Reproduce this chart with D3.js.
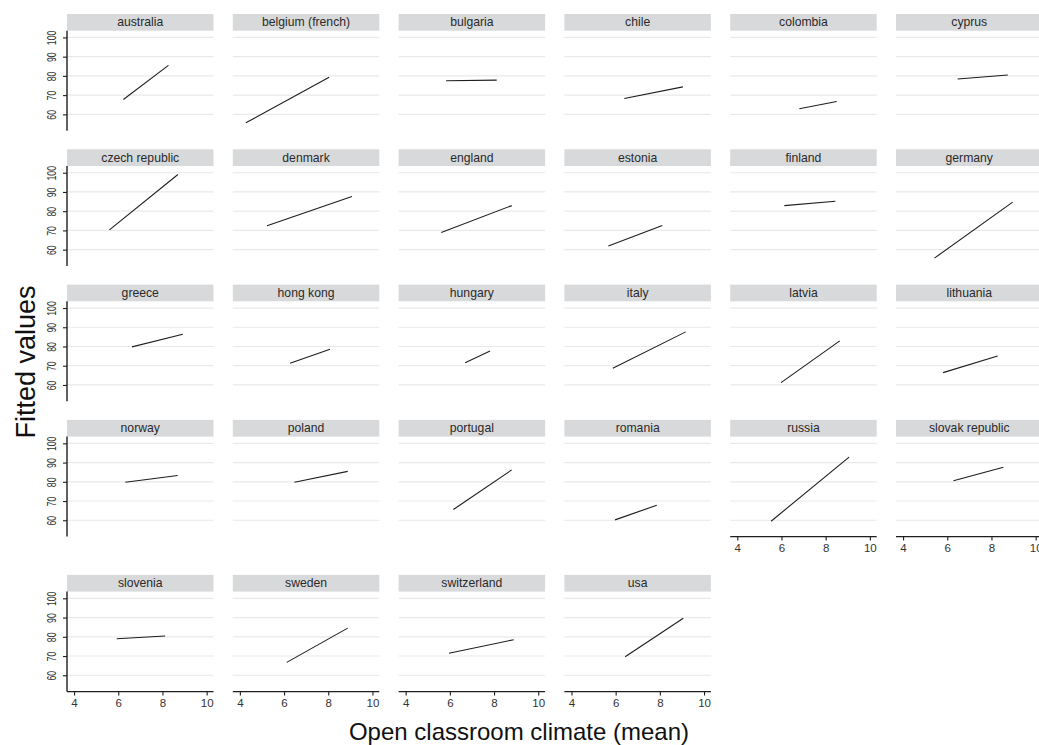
<!DOCTYPE html>
<html>
<head>
<meta charset="utf-8">
<script src="https://cdn.jsdelivr.net/npm/d3@7"></script>
<style>
  html, body { margin: 0; padding: 0; background: #fff; }
  svg { display: block; }
  text { font-family: "Liberation Sans", Arial, Helvetica, sans-serif; }
</style>
</head>
<body>
<svg id="chart" width="1039" height="745"></svg>
<script>
// ---- data ----
const countries = ["australia","belgium (french)","bulgaria","chile","colombia","cyprus",
  "czech republic","denmark","england","estonia","finland","germany",
  "greece","hong kong","hungary","italy","latvia","lithuania",
  "norway","poland","portugal","romania","russia","slovak republic",
  "slovenia","sweden","switzerland","usa"];
// fitted line endpoints: climate (x) and fitted value (y)
const xStart = [6.23,4.27,5.83,6.39,6.81,6.47, 5.60,5.23,5.61,5.67,6.13,5.42, 6.62,6.27,6.69,5.87,5.98,5.81, 6.32,6.47,6.16,5.97,5.53,6.28, 5.93,6.12,5.96,6.43];
const xEnd   = [8.27,8.04,8.12,9.04,8.50,8.74, 8.70,9.07,8.80,8.11,8.44,8.96, 8.92,8.08,7.82,9.17,8.64,8.28, 8.69,8.88,8.80,7.86,9.06,8.54, 8.12,8.88,8.89,9.06];
const yStart = [67.7,55.6,77.5,68.2,62.9,78.4, 70.3,72.4,68.9,61.9,82.9,55.6, 79.8,71.3,71.6,68.7,61.2,66.4, 79.8,79.8,65.6,60.2,59.5,80.5, 79.0,66.7,71.4,69.6];
const yEnd   = [85.5,79.3,77.8,74.3,66.7,80.5, 99.1,87.6,82.9,72.6,85.2,84.7, 86.4,78.6,77.7,87.6,82.9,75.1, 83.3,85.4,86.2,67.8,92.8,87.6, 80.4,84.5,78.5,89.6];
const xTicks = [4, 6, 8, 10];
const yTicks = [60, 70, 80, 90, 100];
const xTitle = "Open classroom climate (mean)";
const yTitle = "Fitted values";

// ---- layout ----
const nCols = 6;
const nPanels = countries.length;
const nRows = Math.ceil(nPanels / nCols);
const panelW = 146.5, stripH = 16.7, plotH = 100;
const colLeft0 = 67, colPitch = 165.8;
const rowTop0 = 14, rowPitch = 135.3, axisExtra = 19.7;

const svg = d3.select("#chart");

const x = d3.scaleLinear().domain([3.68, 10.31]).range([0, panelW]);
const y = d3.scaleLinear().domain([51.5, 103.5]).range([plotH, 0]);

function hasXAxis(i) {
  // bottom-most panel in its column
  return (i + nCols) >= nPanels;
}

countries.forEach((name, i) => {
  const r = Math.floor(i / nCols), c = i % nCols;
  const left = colLeft0 + c * colPitch;
  const top = rowTop0 + r * rowPitch + (r === nRows - 1 ? axisExtra : 0);
  const g = svg.append("g").attr("transform", `translate(${left},${top})`);

  // strip
  g.append("rect").attr("x", 0).attr("y", 0).attr("width", panelW).attr("height", stripH)
    .attr("fill", "#d8d9db");
  g.append("text").attr("x", panelW / 2).attr("y", 12.4).attr("text-anchor", "middle")
    .attr("font-size", 12.2).attr("fill", "#2a2a2a").text(name);

  const p = g.append("g").attr("transform", `translate(0,${stripH})`);
  // gridlines
  p.selectAll("line.grid").data(yTicks).join("line").attr("class", "grid")
    .attr("x1", 0).attr("x2", panelW)
    .attr("y1", d => y(d)).attr("y2", d => y(d))
    .attr("stroke", "#e9e9e9").attr("stroke-width", 1.2);

  // fitted line
  p.append("line")
    .attr("x1", x(xStart[i])).attr("y1", y(yStart[i]))
    .attr("x2", x(xEnd[i])).attr("y2", y(yEnd[i]))
    .attr("stroke", "#1e1e1e").attr("stroke-width", 1.1);

  // y axis on first column
  if (c === 0) {
    const ya = p.append("g").call(d3.axisLeft(y).tickValues(yTicks).tickSize(4).tickPadding(4).tickFormat(d3.format("d")));
    ya.select(".domain").attr("d", `M0,0V${plotH}`).attr("stroke", "#1e1e1e").attr("stroke-width", 1.4);
    ya.selectAll(".tick line").attr("stroke", "#1e1e1e").attr("stroke-width", 1.1);
    ya.selectAll(".tick text")
      .attr("x", null).attr("dy", null)
      .attr("text-anchor", "middle")
      .attr("font-size", 12.5).attr("fill", "#333")
      .attr("font-family", "'Liberation Sans', Arial, sans-serif")
      .attr("transform", "translate(-11,0) rotate(-90) scale(0.7,1)");
  }
  // x axis on bottom-most panels of each column
  if (hasXAxis(i)) {
    const xa = p.append("g").attr("transform", `translate(0,${plotH})`)
      .call(d3.axisBottom(x).tickValues(xTicks).tickSize(4).tickPadding(3).tickFormat(d3.format("d")));
    xa.select(".domain").attr("d", `M0,0H${panelW}`).attr("stroke", "#1e1e1e").attr("stroke-width", 1.4);
    xa.selectAll(".tick line").attr("stroke", "#1e1e1e").attr("stroke-width", 1.1);
    xa.selectAll(".tick text").attr("font-size", 11.5).attr("fill", "#333")
      .attr("font-family", "'Liberation Sans', Arial, sans-serif");
  }
});

// axis titles
svg.append("text").attr("transform", "translate(35,362) rotate(-90)")
  .attr("text-anchor", "middle").attr("font-size", 27).attr("fill", "#111").text(yTitle);
svg.append("text").attr("x", 519).attr("y", 740)
  .attr("text-anchor", "middle").attr("font-size", 24).attr("fill", "#111").text(xTitle);
</script>
</body>
</html>
